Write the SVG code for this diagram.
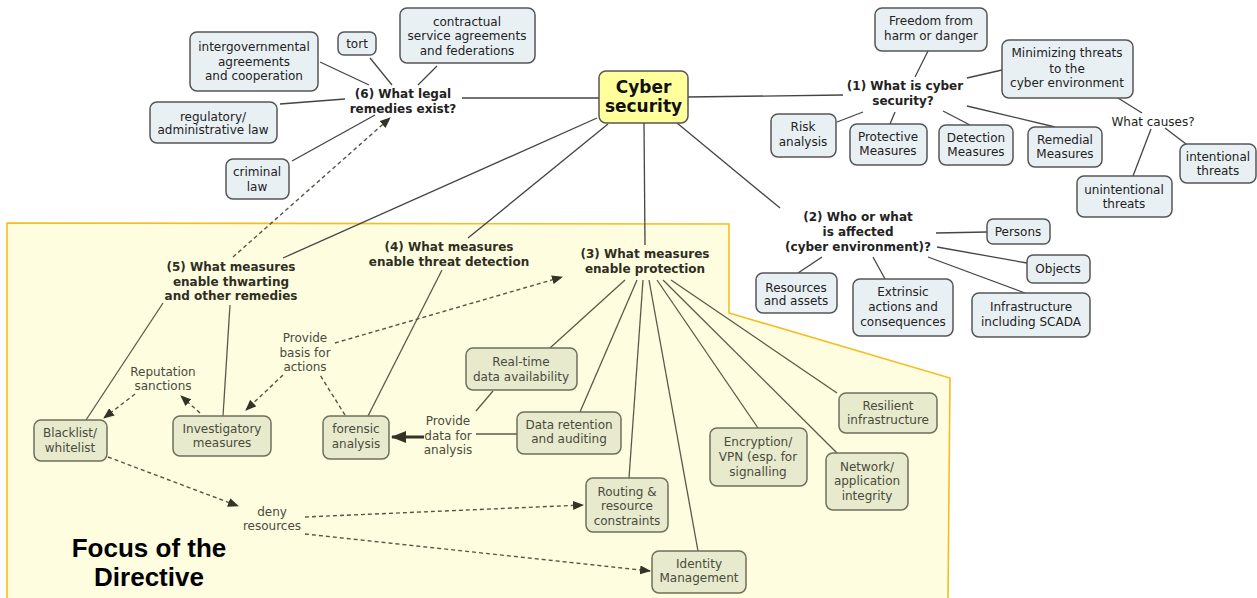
<svg xmlns="http://www.w3.org/2000/svg" width="1257" height="598" viewBox="0 0 1257 598">
<style>
.bg{fill:#ffffff}
.zone{fill:#fefde0;stroke:#f5bd1f;stroke-width:1.6}
.box{fill:#e9f0f4;stroke:#555;stroke-width:1.5}
.gbox{fill:#e7eacd;stroke:#6f6f5c;stroke-width:1.5}
.core{fill:#ffff9c;stroke:#555;stroke-width:1.5}
text{font-family:"DejaVu Sans",Verdana,sans-serif;font-size:12px;text-anchor:middle;fill:#222}
.b{font-weight:bold}
.g text, text.g{fill:#4a4a3c}
.gb{fill:#2e2e22;font-weight:bold}
.big{font-size:17px;font-weight:bold;fill:#111}
.focus{font-family:"Liberation Sans",Arial,sans-serif;font-size:26px;font-weight:bold;fill:#000}
.ln{stroke:#444;stroke-width:1.3;fill:none}
.lg{stroke:#5a5a48;stroke-width:1.3;fill:none}
.dash{stroke:#555546;stroke-width:1.4;fill:none;stroke-dasharray:4 3}
.thick{stroke:#333326;stroke-width:3;fill:none}
</style>
<defs>
<marker id="ah" markerUnits="userSpaceOnUse" markerWidth="11" markerHeight="9" refX="10" refY="4.5" orient="auto">
<path d="M0,0 L11,4.5 L0,9 z" fill="#333326"/>
</marker>
<marker id="ahb" markerUnits="userSpaceOnUse" markerWidth="15" markerHeight="12" refX="14" refY="6" orient="auto">
<path d="M0,0 L15,6 L0,12 z" fill="#333326"/>
</marker>
</defs>
<rect class="bg" x="0" y="0" width="1257" height="598"/>
<polygon id="focus-zone" class="zone" points="7,223 729,224 729,313 950,378 948,600 7,600"/>

<g id="connectors">
<line class="ln" x1="320" y1="62" x2="369" y2="85"/>
<line class="ln" x1="370" y1="58" x2="392" y2="85"/>
<line class="ln" x1="437" y1="66" x2="418" y2="85"/>
<line class="ln" x1="280" y1="104" x2="345" y2="99"/>
<line class="ln" x1="292" y1="161" x2="375" y2="115"/>
<line class="ln" x1="462" y1="98" x2="599" y2="98"/>
<line class="ln" x1="688" y1="97" x2="843" y2="95"/>
<line class="ln" x1="597" y1="118" x2="283" y2="258"/>
<line class="ln" x1="608" y1="124" x2="468" y2="238"/>
<line class="ln" x1="644" y1="123" x2="645" y2="245"/>
<line class="ln" x1="677" y1="123" x2="780" y2="208"/>
<line class="ln" x1="928" y1="51" x2="915" y2="77"/>
<line class="ln" x1="967" y1="78" x2="1002" y2="70"/>
<line class="ln" x1="863" y1="112" x2="837" y2="122"/>
<line class="ln" x1="895" y1="112" x2="890" y2="124"/>
<line class="ln" x1="943" y1="111" x2="970" y2="125"/>
<line class="ln" x1="967" y1="106" x2="1055" y2="127"/>
<line class="ln" x1="1118" y1="98" x2="1142" y2="113"/>
<line class="ln" x1="1165" y1="128" x2="1186" y2="144"/>
<line class="ln" x1="1151" y1="129" x2="1133" y2="176"/>
<line class="ln" x1="936" y1="233" x2="987" y2="232"/>
<line class="ln" x1="937" y1="247" x2="1027" y2="263"/>
<line class="ln" x1="928" y1="257" x2="1025" y2="293"/>
<line class="ln" x1="822" y1="257" x2="798" y2="273"/>
<line class="ln" x1="873" y1="257" x2="885" y2="279"/>
<line class="lg" x1="163" y1="303" x2="86" y2="420"/>
<line class="lg" x1="230" y1="305" x2="223" y2="416"/>
<line class="lg" x1="442" y1="270" x2="368" y2="416"/>
<line class="lg" x1="625" y1="280" x2="550" y2="348"/>
<line class="lg" x1="637" y1="280" x2="580" y2="412"/>
<line class="lg" x1="643" y1="280" x2="629" y2="478"/>
<line class="lg" x1="649" y1="280" x2="698" y2="551"/>
<line class="lg" x1="657" y1="280" x2="758" y2="428"/>
<line class="lg" x1="663" y1="280" x2="837" y2="453"/>
<line class="lg" x1="671" y1="280" x2="837" y2="393"/>
<line class="lg" x1="493" y1="391" x2="476" y2="411"/>
<line class="lg" x1="517" y1="434" x2="476" y2="434"/>
<line class="thick" x1="424" y1="437" x2="392" y2="437" marker-end="url(#ahb)"/>
<line class="dash" x1="233" y1="257" x2="390" y2="118" marker-end="url(#ah)"/>
<line class="dash" x1="335" y1="343" x2="562" y2="277" marker-end="url(#ah)"/>
<line class="dash" x1="283" y1="375" x2="246" y2="410" marker-end="url(#ah)"/>
<line class="dash" x1="345" y1="415" x2="320" y2="375"/>
<line class="dash" x1="200" y1="413" x2="181" y2="396" marker-end="url(#ah)"/>
<line class="dash" x1="135" y1="394" x2="104" y2="418" marker-end="url(#ah)"/>
<line class="dash" x1="108" y1="457" x2="238" y2="506" marker-end="url(#ah)"/>
<line class="dash" x1="305" y1="517" x2="583" y2="505" marker-end="url(#ah)"/>
<line class="dash" x1="305" y1="534" x2="650" y2="571" marker-end="url(#ah)"/>
</g>

<g id="cyber-security"><rect class="core" x="599" y="71" width="89" height="52" rx="7"/><text class="big" x="643.5" y="93">Cyber</text><text class="big" x="643.5" y="112">security</text></g>

<g id="q6"><text class="b" x="403" y="98">(6) What legal</text><text class="b" x="403" y="113">remedies exist?</text></g>
<g id="intergov"><rect class="box" x="190" y="32" width="128" height="59" rx="7"/><text x="254" y="51">intergovernmental</text><text x="254" y="66">agreements</text><text x="254" y="80">and cooperation</text></g>
<g id="tort"><rect class="box" x="338" y="32" width="38" height="23" rx="6"/><text x="357" y="48">tort</text></g>
<g id="contractual"><rect class="box" x="400" y="8" width="135" height="55" rx="7"/><text x="467" y="26">contractual</text><text x="467" y="40">service agreements</text><text x="467" y="55">and federations</text></g>
<g id="regulatory"><rect class="box" x="150" y="102" width="127" height="41" rx="7"/><text x="213" y="121">regulatory/</text><text x="213" y="134">administrative law</text></g>
<g id="criminal"><rect class="box" x="226" y="159" width="63" height="40" rx="7"/><text x="257" y="176">criminal</text><text x="257" y="191">law</text></g>

<g id="q1"><text class="b" x="905" y="90">(1) What is cyber</text><text class="b" x="903" y="105">security?</text></g>
<g id="freedom"><rect class="box" x="875" y="8" width="112" height="43" rx="7"/><text x="931" y="25">Freedom from</text><text x="931" y="40">harm or danger</text></g>
<g id="minimizing"><rect class="box" x="1002" y="40" width="131" height="58" rx="7"/><text x="1067" y="57">Minimizing threats</text><text x="1067" y="73">to the</text><text x="1067" y="87">cyber environment</text></g>
<g id="risk"><rect class="box" x="771" y="114" width="65" height="43" rx="7"/><text x="803" y="131">Risk</text><text x="803" y="146">analysis</text></g>
<g id="protective"><rect class="box" x="850" y="124" width="77" height="41" rx="7"/><text x="888" y="141">Protective</text><text x="888" y="155">Measures</text></g>
<g id="detection"><rect class="box" x="939" y="125" width="74" height="40" rx="7"/><text x="976" y="142">Detection</text><text x="976" y="156">Measures</text></g>
<g id="remedial"><rect class="box" x="1028" y="127" width="74" height="40" rx="7"/><text x="1065" y="144">Remedial</text><text x="1065" y="158">Measures</text></g>
<g id="what-causes"><text x="1153" y="126">What causes?</text></g>
<g id="intentional"><rect class="box" x="1180" y="144" width="76" height="39" rx="7"/><text x="1218" y="161">intentional</text><text x="1218" y="175">threats</text></g>
<g id="unintentional"><rect class="box" x="1077" y="176" width="95" height="41" rx="7"/><text x="1124" y="194">unintentional</text><text x="1124" y="208">threats</text></g>

<g id="q2"><text class="b" x="858" y="221">(2) Who or what</text><text class="b" x="858" y="236">is affected</text><text class="b" x="858" y="251">(cyber environment)?</text></g>
<g id="persons"><rect class="box" x="987" y="219" width="63" height="25" rx="6"/><text x="1018" y="236">Persons</text></g>
<g id="objects"><rect class="box" x="1027" y="255" width="63" height="28" rx="6"/><text x="1058" y="273">Objects</text></g>
<g id="infrastructure"><rect class="box" x="972" y="293" width="118" height="44" rx="7"/><text x="1031" y="311">Infrastructure</text><text x="1031" y="326">including SCADA</text></g>
<g id="resources"><rect class="box" x="756" y="273" width="81" height="40" rx="7"/><text x="796" y="292">Resources</text><text x="796" y="305">and assets</text></g>
<g id="extrinsic"><rect class="box" x="853" y="279" width="100" height="57" rx="7"/><text x="903" y="296">Extrinsic</text><text x="903" y="311">actions and</text><text x="903" y="326">consequences</text></g>

<g id="q5"><text class="gb" x="231" y="271">(5) What measures</text><text class="gb" x="231" y="286">enable thwarting</text><text class="gb" x="231" y="300">and other remedies</text></g>
<g id="q4"><text class="gb" x="449" y="251">(4) What measures</text><text class="gb" x="449" y="266">enable threat detection</text></g>
<g id="q3"><text class="gb" x="645" y="258">(3) What measures</text><text class="gb" x="645" y="273">enable protection</text></g>
<g id="provide-basis"><text class="g" x="305" y="342">Provide</text><text class="g" x="305" y="357">basis for</text><text class="g" x="305" y="371">actions</text></g>
<g id="reputation"><text class="g" x="163" y="376">Reputation</text><text class="g" x="163" y="390">sanctions</text></g>
<g id="provide-data"><text class="g" x="448" y="425">Provide</text><text class="g" x="448" y="440">data for</text><text class="g" x="448" y="454">analysis</text></g>
<g id="deny"><text class="g" x="272" y="516">deny</text><text class="g" x="272" y="530">resources</text></g>

<g id="blacklist" class="g"><rect class="gbox" x="34" y="420" width="73" height="41" rx="7"/><text x="70" y="437">Blacklist/</text><text x="70" y="452">whitelist</text></g>
<g id="investigatory" class="g"><rect class="gbox" x="173" y="416" width="98" height="40" rx="7"/><text x="222" y="433">Investigatory</text><text x="222" y="447">measures</text></g>
<g id="forensic" class="g"><rect class="gbox" x="323" y="416" width="66" height="43" rx="7"/><text x="356" y="433">forensic</text><text x="356" y="448">analysis</text></g>
<g id="realtime" class="g"><rect class="gbox" x="466" y="348" width="111" height="42" rx="7"/><text x="521" y="366">Real-time</text><text x="521" y="381">data availability</text></g>
<g id="retention" class="g"><rect class="gbox" x="517" y="412" width="104" height="42" rx="7"/><text x="569" y="429">Data retention</text><text x="569" y="443">and auditing</text></g>
<g id="routing" class="g"><rect class="gbox" x="586" y="478" width="82" height="54" rx="7"/><text x="627" y="496">Routing &amp;</text><text x="627" y="510">resource</text><text x="627" y="525">constraints</text></g>
<g id="identity" class="g"><rect class="gbox" x="652" y="551" width="94" height="42" rx="7"/><text x="699" y="568">Identity</text><text x="699" y="582">Management</text></g>
<g id="encryption" class="g"><rect class="gbox" x="710" y="428" width="97" height="58" rx="7"/><text x="758" y="446">Encryption/</text><text x="758" y="461">VPN (esp. for</text><text x="758" y="476">signalling</text></g>
<g id="network" class="g"><rect class="gbox" x="826" y="453" width="82" height="57" rx="7"/><text x="867" y="471">Network/</text><text x="867" y="485">application</text><text x="867" y="500">integrity</text></g>
<g id="resilient" class="g"><rect class="gbox" x="839" y="393" width="98" height="40" rx="7"/><text x="888" y="410">Resilient</text><text x="888" y="424">infrastructure</text></g>

<g id="focus-label"><text class="focus" x="149" y="557">Focus of the</text><text class="focus" x="149" y="586">Directive</text></g>
</svg>
